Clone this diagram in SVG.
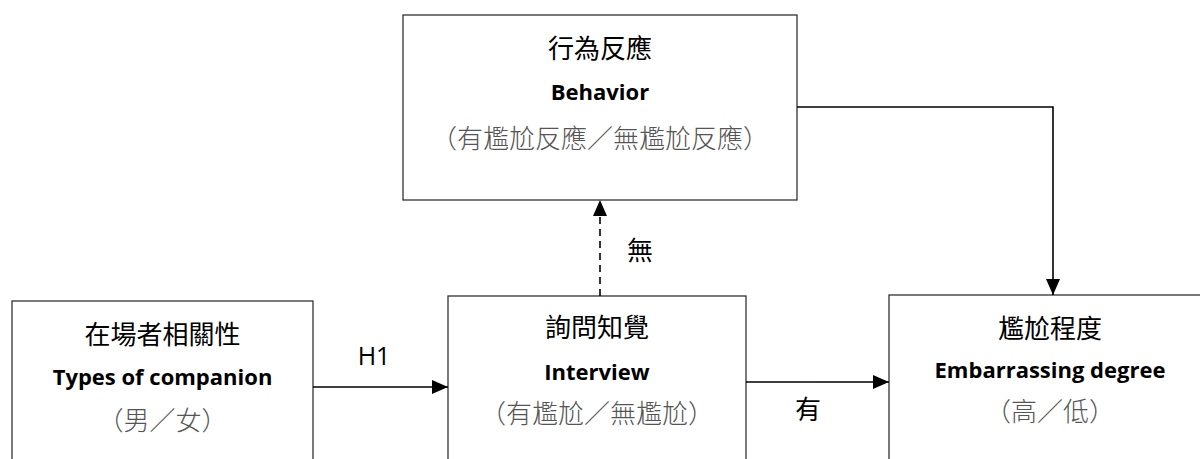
<svg xmlns="http://www.w3.org/2000/svg" width="1200" height="459" viewBox="0 0 1200 459">
<defs>
<style>
.box{fill:#fff;stroke:#333;stroke-width:1.3}
.title{font-family:"Noto Sans CJK TC","Noto Sans CJK SC",sans-serif;font-size:26px;fill:#000;text-anchor:middle}
.en{font-family:"Open Sans","Liberation Sans",sans-serif;font-weight:bold;font-size:22px;fill:#000;text-anchor:middle}
.sub{font-family:"Noto Sans CJK TC","Noto Sans CJK SC",sans-serif;font-size:26px;fill:#555;text-anchor:middle;font-weight:300}
.lbl{font-family:"Noto Sans CJK TC","Open Sans",sans-serif;font-size:26px;fill:#000;text-anchor:middle}
.h{font-family:"Open Sans","Liberation Sans",sans-serif;font-size:25px;fill:#000;text-anchor:middle}
.conn{fill:none;stroke:#000;stroke-width:1.6}
</style>
<marker id="arr" markerUnits="userSpaceOnUse" markerWidth="16" markerHeight="16" viewBox="0 0 16 16" refX="16" refY="8" orient="auto">
<path d="M0,1 L16,8 L0,15 Z" fill="#000"/>
</marker>
</defs>
<g id="node-behavior">
<rect class="box" x="403" y="15" width="394" height="185"/>
<text class="title" x="600" y="58">行為反應</text>
<text class="en" x="600" y="100">Behavior</text>
<text class="sub" x="600" y="148">（有尷尬反應／無尷尬反應）</text>
</g>
<g id="node-companion">
<rect class="box" x="12" y="301" width="301" height="200"/>
<text class="title" x="162.5" y="344">在場者相關性</text>
<text class="en" x="162.5" y="385">Types of companion</text>
<text class="sub" x="162.5" y="430">（男／女）</text>
</g>
<g id="node-interview">
<rect class="box" x="448" y="296" width="298" height="200"/>
<text class="title" x="597" y="337">詢問知覺</text>
<text class="en" x="597" y="380">Interview</text>
<text class="sub" x="597" y="423">（有尷尬／無尷尬）</text>
</g>
<g id="node-embarrassing">
<rect class="box" x="889" y="295" width="330" height="200"/>
<text class="title" x="1050" y="338">尷尬程度</text>
<text class="en" x="1050" y="378">Embarrassing degree</text>
<text class="sub" x="1050" y="421">（高／低）</text>
</g>
<g id="connectors">
<line class="conn" x1="313" y1="387" x2="448" y2="387" marker-end="url(#arr)"/>
<line class="conn" x1="746" y1="382" x2="889" y2="382" marker-end="url(#arr)"/>
<line class="conn" x1="600" y1="296" x2="600" y2="200" stroke-dasharray="7,5" marker-end="url(#arr)"/>
<path class="conn" d="M797,107 H1053 V295" marker-end="url(#arr)"/>
<text class="h" x="374" y="365">H1</text>
<text class="lbl" x="640" y="260">無</text>
<text class="lbl" x="808" y="419">有</text>
</g>
</svg>
